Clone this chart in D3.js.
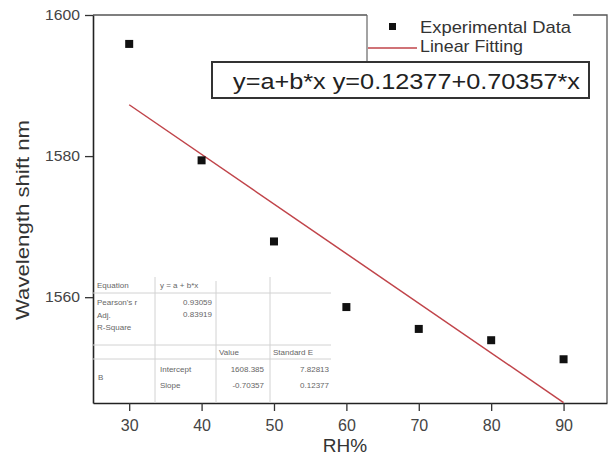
<!DOCTYPE html>
<html>
<head>
<meta charset="utf-8">
<script src="https://cdn.jsdelivr.net/npm/d3@7"></script>
<style>
  body { margin: 0; background: #fff; }
  svg { display: block; font-family: "Liberation Sans", Arial, sans-serif; }
</style>
</head>
<body>
<svg id="chart" width="613" height="457"></svg>
<script>
// Measured wavelength shift against relative humidity
const rhValues = [30, 40, 50, 60, 70, 80, 90];
const shiftValues = [1595.9, 1579.4, 1567.9, 1558.6, 1555.5, 1553.9, 1551.2];

// Linear fit parameters
const fitIntercept = 1608.385;
const fitSlope = -0.70357;
const fitRange = [30, 90];

// Axis ticks
const xTicks = [30, 40, 50, 60, 70, 80, 90];
const yTicks = [1560, 1580, 1600];

// Fit statistics table
const statRows = [
  ["Equation", "y = a + b*x"],
  ["Pearson's r", "0.93059"],
  ["Adj. R-Square", "0.83919"]
];
const paramHeader = ["Value", "Standard E"];
const paramRows = [
  ["Intercept", "1608.385", "7.82813"],
  ["Slope", "-0.70357", "0.12377"]
];

const svg = d3.select("#chart");
const margin = { left: 93, right: 6, top: 15, bottom: 54 };
const W = 613, H = 457;

const x = d3.scaleLinear().domain([25, 96]).range([margin.left, W - margin.right]);
const y = d3.scaleLinear().domain([1545, 1600]).range([H - margin.bottom, margin.top]);

const x0 = x.range()[0], x1 = x.range()[1];
const y0 = y.range()[0], y1 = y.range()[1];

// Top and right frame
svg.append("path")
  .attr("d", `M${x0},${y1}H${x1}V${y0}`)
  .attr("fill", "none").attr("stroke", "#555").attr("stroke-width", 1.3);

// Axes
const xAxis = svg.append("g").attr("transform", `translate(0,${y0})`)
  .call(d3.axisBottom(x).tickValues(xTicks).tickSize(8).tickPadding(9).tickSizeOuter(0));
const yAxis = svg.append("g").attr("transform", `translate(${x0},0)`)
  .call(d3.axisLeft(y).tickValues(yTicks).tickFormat(d3.format("d")).tickSize(8).tickPadding(5).tickSizeOuter(0));
[xAxis, yAxis].forEach(g => {
  g.select(".domain").attr("stroke", "#222").attr("stroke-width", 1.6);
  g.selectAll(".tick line").attr("stroke", "#333").attr("stroke-width", 1.3);
  g.selectAll(".tick text").attr("fill", "#444")
    .attr("font-family", "Liberation Sans, Arial, sans-serif");
});
xAxis.selectAll(".tick text").attr("font-size", 16);
yAxis.selectAll(".tick text").attr("font-size", 14).attr("textLength", 35).attr("lengthAdjust", "spacingAndGlyphs");

// Axis titles
svg.append("text")
  .attr("x", (x0 + x1) / 2 - 5).attr("y", 452)
  .attr("text-anchor", "middle").attr("font-size", 19).attr("fill", "#333")
  .text("RH%");
svg.append("text")
  .attr("transform", `translate(29,${220}) rotate(-90)`)
  .attr("text-anchor", "middle").attr("font-size", 19).attr("fill", "#333")
  .attr("textLength", 200).attr("lengthAdjust", "spacingAndGlyphs")
  .text("Wavelength shift nm");

// Fit statistics table in the lower-left corner
const tbl = svg.append("g").attr("font-size", 8).attr("fill", "#666");
const gridColor = "#d2d2d2";
const tableRight = 331;
const hLines = [293, 345, 359];
hLines.forEach(v => tbl.append("line")
  .attr("x1", x0).attr("x2", tableRight).attr("y1", v).attr("y2", v)
  .attr("stroke", gridColor).attr("stroke-width", 1));
[[155, 277], [216, 281], [270, 277]].forEach(([vx, top]) => tbl.append("line")
  .attr("x1", vx).attr("x2", vx).attr("y1", top).attr("y2", y0)
  .attr("stroke", gridColor).attr("stroke-width", 1));

tbl.append("text").attr("x", 97).attr("y", 288).text(statRows[0][0]);
tbl.append("text").attr("x", 160).attr("y", 288).text(statRows[0][1]);
tbl.append("text").attr("x", 97).attr("y", 305).text(statRows[1][0]);
tbl.append("text").attr("x", 212).attr("y", 305).attr("text-anchor", "end").text(statRows[1][1]);
tbl.append("text").attr("x", 97).attr("y", 318).text("Adj.");
tbl.append("text").attr("x", 97).attr("y", 330).text("R-Square");
tbl.append("text").attr("x", 212).attr("y", 317).attr("text-anchor", "end").text(statRows[2][1]);
tbl.append("text").attr("x", 219).attr("y", 355).text(paramHeader[0]);
tbl.append("text").attr("x", 273).attr("y", 355).text(paramHeader[1]);
tbl.append("text").attr("x", 98).attr("y", 380).text("B");
paramRows.forEach((r, i) => {
  const by = 372 + i * 16;
  tbl.append("text").attr("x", 160).attr("y", by).text(r[0]);
  tbl.append("text").attr("x", 264).attr("y", by).attr("text-anchor", "end").text(r[1]);
  tbl.append("text").attr("x", 329).attr("y", by).attr("text-anchor", "end").text(r[2]);
});

// Linear fit line
const fitLine = d3.line().x(d => x(d)).y(d => y(fitIntercept + fitSlope * d));
svg.append("path").datum(fitRange)
  .attr("d", fitLine)
  .attr("fill", "none").attr("stroke", "#c0444a").attr("stroke-width", 1.5);

// Experimental points
const sq = 8;
svg.append("g").selectAll("rect").data(rhValues)
  .join("rect")
  .attr("x", (d) => x(d) - sq / 2)
  .attr("y", (d, i) => y(shiftValues[i]) - sq / 2)
  .attr("width", sq).attr("height", sq)
  .attr("fill", "#111");

// Legend
const leg = svg.append("g");
leg.append("rect").attr("x", 367).attr("y", 2).attr("width", 206).attr("height", 60).attr("fill", "#fff");
leg.append("line").attr("x1", 367).attr("x2", 367).attr("y1", y1).attr("y2", 62)
  .attr("stroke", "#666").attr("stroke-width", 1.2);
leg.append("rect").attr("x", 389).attr("y", 23).attr("width", 7).attr("height", 7).attr("fill", "#111");
leg.append("text").attr("x", 420).attr("y", 33).attr("font-size", 17).attr("fill", "#333")
  .attr("textLength", 151).attr("lengthAdjust", "spacingAndGlyphs").text("Experimental Data");
leg.append("line").attr("x1", 368).attr("x2", 417).attr("y1", 48).attr("y2", 48)
  .attr("stroke", "#c0444a").attr("stroke-width", 1.3);
leg.append("text").attr("x", 420).attr("y", 52).attr("font-size", 17).attr("fill", "#333")
  .attr("textLength", 103).attr("lengthAdjust", "spacingAndGlyphs").text("Linear Fitting");

// Equation box
const eq = svg.append("g");
eq.append("rect").attr("x", 212).attr("y", 62).attr("width", 377).attr("height", 36)
  .attr("fill", "#fff").attr("stroke", "#333").attr("stroke-width", 2);
eq.append("text").attr("x", 233).attr("y", 89)
  .attr("font-size", 22).attr("fill", "#222")
  .attr("textLength", 347).attr("lengthAdjust", "spacingAndGlyphs")
  .text(`y=a+b*x y=${paramRows[1][2]}+${Math.abs(fitSlope).toFixed(5)}*x`);
</script>
</body>
</html>
